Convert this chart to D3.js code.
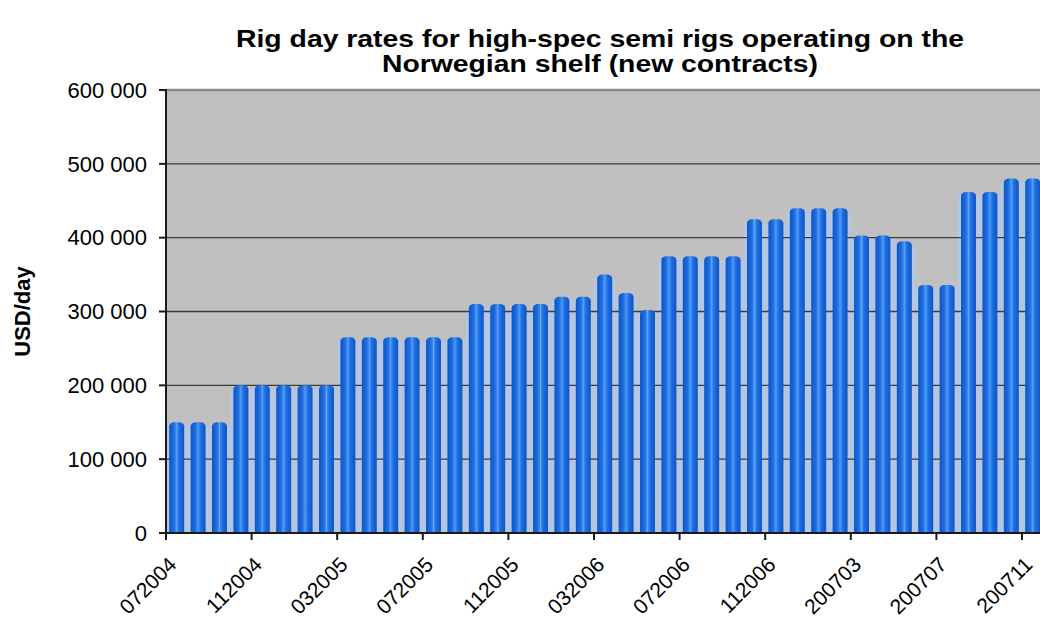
<!DOCTYPE html>
<html>
<head>
<meta charset="utf-8">
<script src="https://cdn.jsdelivr.net/npm/d3@7"></script>
<style>
  html, body { margin: 0; padding: 0; background: #ffffff; }
  svg { display: block; }
  text { font-family: "Liberation Sans", Arial, Helvetica, sans-serif; fill: #000; }
</style>
</head>
<body>
<svg id="chart" width="1040" height="626"></svg>
<script>
// Monthly contract months (MMYYYY through 2006, YYYYMM from 2007)
const months = [
  "072004","082004","092004","102004","112004","122004",
  "012005","022005","032005","042005","052005","062005","072005","082005","092005","102005","112005","122005",
  "012006","022006","032006","042006","052006","062006","072006","082006","092006","102006","112006","122006",
  "200701","200702","200703","200704","200705","200706","200707","200708","200709","200710","200711"
];

// Day rate in USD/day for each month
const dayRates = [
  150000, 150000, 150000,
  200000, 200000, 200000, 200000, 200000,
  265000, 265000, 265000, 265000, 265000, 265000,
  310000, 310000, 310000, 310000,
  320000, 320000,
  350000, 325000, 302000,
  375000, 375000, 375000, 375000,
  425000, 425000,
  440000, 440000, 440000,
  403000, 403000, 395000,
  336000, 336000,
  462000, 462000,
  480000, 480000
];

const yTicks = [0, 100000, 200000, 300000, 400000, 500000, 600000];
const labelEvery = 4;
const titleLines = ["Rig day rates for high-spec semi rigs operating on the", "Norwegian shelf (new contracts)"];
const yAxisTitle = "USD/day";

// Layout
const plot = { left: 166, top: 90, bottom: 533 };
const step = 21.4;
plot.right = plot.left + step * months.length;

const svg = d3.select("#chart");

const x = d3.scaleBand()
  .domain(months)
  .range([plot.left, plot.right])
  .paddingInner(0.3)
  .paddingOuter(0.15);

const y = d3.scaleLinear()
  .domain([0, 600000])
  .range([plot.bottom, plot.top]);

const fmt = d3.formatLocale({ decimal: ",", thousands: " ", grouping: [3], currency: ["", ""] }).format(",d");

// Gradient giving each bar a rounded, lit look
const defs = svg.append("defs");
const grad = defs.append("linearGradient").attr("id", "barGrad")
  .attr("x1", "0%").attr("x2", "100%").attr("y1", "0%").attr("y2", "0%");
[["0%", "#0f55c4"], ["30%", "#1c6ce0"], ["46%", "#3f8cf2"], ["50%", "#62a8fa"], ["54%", "#3f8cf2"], ["70%", "#1c6ce0"], ["100%", "#0f55c4"]]
  .forEach(([o, c]) => grad.append("stop").attr("offset", o).attr("stop-color", c));

// Plot background
svg.append("rect")
  .attr("x", plot.left).attr("y", plot.top)
  .attr("width", plot.right - plot.left).attr("height", plot.bottom - plot.top)
  .attr("fill", "#c0c0c0");

// Light halo behind the bars
const gap = (x.step() - x.bandwidth()) / 2;
svg.append("g").selectAll("rect")
  .data(months)
  .join("rect")
  .attr("x", d => x(d) - gap)
  .attr("width", x.bandwidth() + 2 * gap)
  .attr("y", (d, i) => y(dayRates[i]) + 4)
  .attr("height", (d, i) => plot.bottom - y(dayRates[i]) - 4)
  .attr("fill", "#b3c6e4");

// Gridlines
svg.append("g").selectAll("line")
  .data(yTicks.filter(d => d > 0))
  .join("line")
  .attr("x1", plot.left).attr("x2", plot.right)
  .attr("y1", d => y(d)).attr("y2", d => y(d))
  .attr("stroke", d => d === 600000 ? "#8a8a8a" : "#3c3c3c")
  .attr("stroke-width", d => d === 600000 ? 2.5 : 1.4);

// Bars
svg.append("g").selectAll("rect")
  .data(months)
  .join("rect")
  .attr("x", d => x(d))
  .attr("width", x.bandwidth())
  .attr("y", (d, i) => y(dayRates[i]))
  .attr("height", (d, i) => plot.bottom - y(dayRates[i]) + 4)
  .attr("rx", 5).attr("ry", 4)
  .attr("fill", "url(#barGrad)");

// Clip the bottom of the bars to the axis
svg.append("rect")
  .attr("x", plot.left).attr("y", plot.bottom + 1)
  .attr("width", plot.right - plot.left).attr("height", 8)
  .attr("fill", "#ffffff");

// Y axis
svg.append("line")
  .attr("x1", plot.left).attr("x2", plot.left)
  .attr("y1", plot.top - 1).attr("y2", plot.bottom + 1)
  .attr("stroke", "#1a1a1a").attr("stroke-width", 2);
svg.append("g").selectAll("line")
  .data(yTicks)
  .join("line")
  .attr("x1", plot.left - 7).attr("x2", plot.left)
  .attr("y1", d => y(d)).attr("y2", d => y(d))
  .attr("stroke", "#1a1a1a").attr("stroke-width", 2);
svg.append("g").selectAll("text")
  .data(yTicks)
  .join("text")
  .attr("x", plot.left - 19)
  .attr("y", d => y(d))
  .attr("text-anchor", "end")
  .attr("dy", "0.35em")
  .attr("font-size", 22)
  .text(d => fmt(d));

// X axis
svg.append("line")
  .attr("x1", plot.left - 7).attr("x2", plot.right)
  .attr("y1", plot.bottom).attr("y2", plot.bottom)
  .attr("stroke", "#1a1a1a").attr("stroke-width", 2);
const labelled = months.filter((d, i) => i % labelEvery === 0);
svg.append("g").selectAll("line")
  .data(labelled)
  .join("line")
  .attr("x1", d => x(d) - gap).attr("x2", d => x(d) - gap)
  .attr("y1", plot.bottom).attr("y2", plot.bottom + 7)
  .attr("stroke", "#1a1a1a").attr("stroke-width", 2);
svg.append("g").selectAll("text")
  .data(labelled)
  .join("text")
  .attr("transform", d => `translate(${x(d) + x.bandwidth() / 2 + 1},${plot.bottom + 33}) rotate(-45)`)
  .attr("text-anchor", "end")
  .attr("font-size", 21)
  .text(d => d);

// Axis title
svg.append("text")
  .attr("transform", `translate(30,${(plot.top + plot.bottom) / 2}) rotate(-90)`)
  .attr("text-anchor", "middle")
  .attr("font-size", 22)
  .attr("font-weight", "bold")
  .text(yAxisTitle);

// Chart title
const titleCx = 600;
const titleWidths = [728, 436];
svg.append("g").selectAll("text")
  .data(titleLines)
  .join("text")
  .attr("x", titleCx)
  .attr("y", (d, i) => 47 + i * 25)
  .attr("text-anchor", "middle")
  .attr("font-size", 23)
  .attr("font-weight", "bold")
  .attr("textLength", (d, i) => titleWidths[i])
  .attr("lengthAdjust", "spacingAndGlyphs")
  .text(d => d);
</script>
</body>
</html>
